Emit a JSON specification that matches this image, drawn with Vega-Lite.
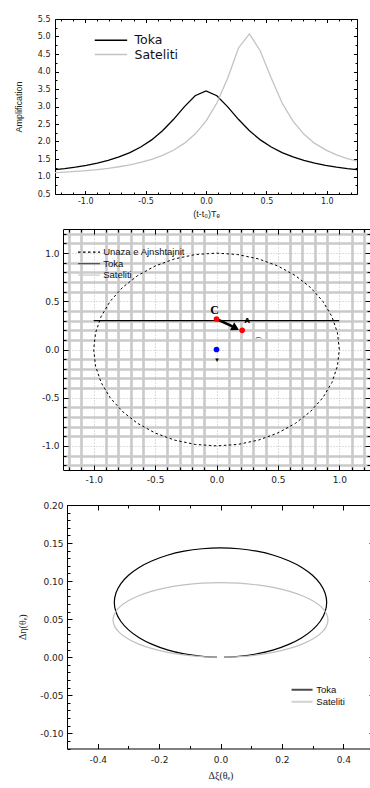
{
"$schema":"https://vega.github.io/schema/vega-lite/v6.json",
"background":"white",
"padding":{"left":0,"top":15,"right":0,"bottom":0},
"spacing":10,
"resolve":{"scale":{"color":"independent","strokeDash":"independent","fill":"independent"},"legend":{"color":"independent","strokeDash":"independent","fill":"independent"}},
"config":{
 "font":"Liberation Sans",
 "view":{"stroke":null},
 "axis":{"domainColor":"#000","domainWidth":1,"tickColor":"#000","tickWidth":1,"labelColor":"#222","titleColor":"#222","titleFontWeight":"normal","labelFlush":false,"labelOverlap":false,"grid":false},
 "locale":{"number":{"decimal":".","thousands":",","grouping":[3],"currency":["$",""],"minus":"-"}}
},
"datasets":{
 "spacer":[{"a":0}],
 "curves":[
  {"t":-1.26,"A":1.192,"s":"Toka"},{"t":-1.17,"A":1.226,"s":"Toka"},{"t":-1.08,"A":1.267,"s":"Toka"},{"t":-0.99,"A":1.318,"s":"Toka"},{"t":-0.9,"A":1.381,"s":"Toka"},{"t":-0.81,"A":1.459,"s":"Toka"},{"t":-0.72,"A":1.558,"s":"Toka"},{"t":-0.63,"A":1.683,"s":"Toka"},{"t":-0.54,"A":1.842,"s":"Toka"},{"t":-0.45,"A":2.046,"s":"Toka"},{"t":-0.36,"A":2.306,"s":"Toka"},{"t":-0.27,"A":2.627,"s":"Toka"},{"t":-0.18,"A":2.988,"s":"Toka"},{"t":-0.09,"A":3.309,"s":"Toka"},{"t":0,"A":3.445,"s":"Toka"},{"t":0.09,"A":3.309,"s":"Toka"},{"t":0.18,"A":2.988,"s":"Toka"},{"t":0.27,"A":2.627,"s":"Toka"},{"t":0.36,"A":2.306,"s":"Toka"},{"t":0.45,"A":2.046,"s":"Toka"},{"t":0.54,"A":1.842,"s":"Toka"},{"t":0.63,"A":1.683,"s":"Toka"},{"t":0.72,"A":1.558,"s":"Toka"},{"t":0.81,"A":1.459,"s":"Toka"},{"t":0.9,"A":1.381,"s":"Toka"},{"t":0.99,"A":1.318,"s":"Toka"},{"t":1.08,"A":1.267,"s":"Toka"},{"t":1.17,"A":1.226,"s":"Toka"},{"t":1.26,"A":1.192,"s":"Toka"},
  {"t":-1.26,"A":1.107,"s":"Sateliti"},{"t":-1.17,"A":1.124,"s":"Sateliti"},{"t":-1.08,"A":1.144,"s":"Sateliti"},{"t":-0.99,"A":1.169,"s":"Sateliti"},{"t":-0.9,"A":1.199,"s":"Sateliti"},{"t":-0.81,"A":1.235,"s":"Sateliti"},{"t":-0.72,"A":1.279,"s":"Sateliti"},{"t":-0.63,"A":1.335,"s":"Sateliti"},{"t":-0.54,"A":1.404,"s":"Sateliti"},{"t":-0.45,"A":1.491,"s":"Sateliti"},{"t":-0.36,"A":1.604,"s":"Sateliti"},{"t":-0.27,"A":1.75,"s":"Sateliti"},{"t":-0.18,"A":1.945,"s":"Sateliti"},{"t":-0.09,"A":2.211,"s":"Sateliti"},{"t":0,"A":2.58,"s":"Sateliti"},{"t":0.09,"A":3.101,"s":"Sateliti"},{"t":0.18,"A":3.817,"s":"Sateliti"},{"t":0.27,"A":4.68,"s":"Sateliti"},{"t":0.36,"A":5.075,"s":"Sateliti"},{"t":0.45,"A":4.58,"s":"Sateliti"},{"t":0.54,"A":3.817,"s":"Sateliti"},{"t":0.63,"A":3.101,"s":"Sateliti"},{"t":0.72,"A":2.58,"s":"Sateliti"},{"t":0.81,"A":2.211,"s":"Sateliti"},{"t":0.9,"A":1.945,"s":"Sateliti"},{"t":0.99,"A":1.76,"s":"Sateliti"},{"t":1.08,"A":1.62,"s":"Sateliti"},{"t":1.17,"A":1.51,"s":"Sateliti"},{"t":1.26,"A":1.43,"s":"Sateliti"}
 ],
 "ring":[
  {"k":0,"x":1,"y":0,"s":"Unaza e Ajnshtajnit"},{"k":1,"x":0.9848,"y":0.1736,"s":"Unaza e Ajnshtajnit"},{"k":2,"x":0.9397,"y":0.342,"s":"Unaza e Ajnshtajnit"},{"k":3,"x":0.866,"y":0.5,"s":"Unaza e Ajnshtajnit"},{"k":4,"x":0.766,"y":0.6428,"s":"Unaza e Ajnshtajnit"},{"k":5,"x":0.6428,"y":0.766,"s":"Unaza e Ajnshtajnit"},{"k":6,"x":0.5,"y":0.866,"s":"Unaza e Ajnshtajnit"},{"k":7,"x":0.342,"y":0.9397,"s":"Unaza e Ajnshtajnit"},{"k":8,"x":0.1736,"y":0.9848,"s":"Unaza e Ajnshtajnit"},{"k":9,"x":0,"y":1,"s":"Unaza e Ajnshtajnit"},{"k":10,"x":-0.1736,"y":0.9848,"s":"Unaza e Ajnshtajnit"},{"k":11,"x":-0.342,"y":0.9397,"s":"Unaza e Ajnshtajnit"},{"k":12,"x":-0.5,"y":0.866,"s":"Unaza e Ajnshtajnit"},{"k":13,"x":-0.6428,"y":0.766,"s":"Unaza e Ajnshtajnit"},{"k":14,"x":-0.766,"y":0.6428,"s":"Unaza e Ajnshtajnit"},{"k":15,"x":-0.866,"y":0.5,"s":"Unaza e Ajnshtajnit"},{"k":16,"x":-0.9397,"y":0.342,"s":"Unaza e Ajnshtajnit"},{"k":17,"x":-0.9848,"y":0.1736,"s":"Unaza e Ajnshtajnit"},{"k":18,"x":-1,"y":0,"s":"Unaza e Ajnshtajnit"},{"k":19,"x":-0.9848,"y":-0.1736,"s":"Unaza e Ajnshtajnit"},{"k":20,"x":-0.9397,"y":-0.342,"s":"Unaza e Ajnshtajnit"},{"k":21,"x":-0.866,"y":-0.5,"s":"Unaza e Ajnshtajnit"},{"k":22,"x":-0.766,"y":-0.6428,"s":"Unaza e Ajnshtajnit"},{"k":23,"x":-0.6428,"y":-0.766,"s":"Unaza e Ajnshtajnit"},{"k":24,"x":-0.5,"y":-0.866,"s":"Unaza e Ajnshtajnit"},{"k":25,"x":-0.342,"y":-0.9397,"s":"Unaza e Ajnshtajnit"},{"k":26,"x":-0.1736,"y":-0.9848,"s":"Unaza e Ajnshtajnit"},{"k":27,"x":0,"y":-1,"s":"Unaza e Ajnshtajnit"},{"k":28,"x":0.1736,"y":-0.9848,"s":"Unaza e Ajnshtajnit"},{"k":29,"x":0.342,"y":-0.9397,"s":"Unaza e Ajnshtajnit"},{"k":30,"x":0.5,"y":-0.866,"s":"Unaza e Ajnshtajnit"},{"k":31,"x":0.6428,"y":-0.766,"s":"Unaza e Ajnshtajnit"},{"k":32,"x":0.766,"y":-0.6428,"s":"Unaza e Ajnshtajnit"},{"k":33,"x":0.866,"y":-0.5,"s":"Unaza e Ajnshtajnit"},{"k":34,"x":0.9397,"y":-0.342,"s":"Unaza e Ajnshtajnit"},{"k":35,"x":0.9848,"y":-0.1736,"s":"Unaza e Ajnshtajnit"},{"k":36,"x":1,"y":0,"s":"Unaza e Ajnshtajnit"}
 ],
 "traj":[{"x":-1,"y":0.3},{"x":1,"y":0.3}],
 "arrow":[{"x":0,"y":0.316,"x2":0.13,"y2":0.24}],
 "head":[{"x":0.155,"y":0.222}],
 "dots":[{"x":0,"y":0.316,"body":"burimi"},{"x":0.209,"y":0.199,"body":"burimi"},{"x":0,"y":0,"body":"thjerrza"}],
 "glyph1":[{"x":-0.015,"y":0.41,"g":"C"}],
 "glyph2":[{"x":0.25,"y":0.3,"g":"A"},{"x":0.34,"y":0.09,"g":"⌒"},{"x":0.005,"y":-0.11,"g":"▾"}],
 "shift":[
  {"k":0,"x":0.0121,"y":0,"s":"Toka"},{"k":1,"x":0.06,"y":0.0011,"s":"Toka"},{"k":2,"x":0.1183,"y":0.0043,"s":"Toka"},{"k":3,"x":0.173,"y":0.0096,"s":"Toka"},{"k":4,"x":0.2223,"y":0.0168,"s":"Toka"},{"k":5,"x":0.265,"y":0.0256,"s":"Toka"},{"k":6,"x":0.2996,"y":0.0359,"s":"Toka"},{"k":7,"x":0.325,"y":0.0472,"s":"Toka"},{"k":8,"x":0.3406,"y":0.0593,"s":"Toka"},{"k":9,"x":0.3459,"y":0.0718,"s":"Toka"},{"k":10,"x":0.3406,"y":0.0843,"s":"Toka"},{"k":11,"x":0.325,"y":0.0964,"s":"Toka"},{"k":12,"x":0.2996,"y":0.1077,"s":"Toka"},{"k":13,"x":0.265,"y":0.118,"s":"Toka"},{"k":14,"x":0.2223,"y":0.1268,"s":"Toka"},{"k":15,"x":0.173,"y":0.134,"s":"Toka"},{"k":16,"x":0.1183,"y":0.1393,"s":"Toka"},{"k":17,"x":0.06,"y":0.1425,"s":"Toka"},{"k":18,"x":0,"y":0.1436,"s":"Toka"},{"k":19,"x":-0.06,"y":0.1425,"s":"Toka"},{"k":20,"x":-0.1183,"y":0.1393,"s":"Toka"},{"k":21,"x":-0.173,"y":0.134,"s":"Toka"},{"k":22,"x":-0.2223,"y":0.1268,"s":"Toka"},{"k":23,"x":-0.265,"y":0.118,"s":"Toka"},{"k":24,"x":-0.2996,"y":0.1077,"s":"Toka"},{"k":25,"x":-0.325,"y":0.0964,"s":"Toka"},{"k":26,"x":-0.3406,"y":0.0843,"s":"Toka"},{"k":27,"x":-0.3459,"y":0.0718,"s":"Toka"},{"k":28,"x":-0.3406,"y":0.0593,"s":"Toka"},{"k":29,"x":-0.325,"y":0.0472,"s":"Toka"},{"k":30,"x":-0.2996,"y":0.0359,"s":"Toka"},{"k":31,"x":-0.265,"y":0.0256,"s":"Toka"},{"k":32,"x":-0.2223,"y":0.0168,"s":"Toka"},{"k":33,"x":-0.173,"y":0.0096,"s":"Toka"},{"k":34,"x":-0.1183,"y":0.0043,"s":"Toka"},{"k":35,"x":-0.06,"y":0.0011,"s":"Toka"},{"k":36,"x":-0.0121,"y":0,"s":"Toka"},
  {"k":0,"x":0.0122,"y":0,"s":"Sateliti"},{"k":1,"x":0.0608,"y":0.0007,"s":"Sateliti"},{"k":2,"x":0.1197,"y":0.003,"s":"Sateliti"},{"k":3,"x":0.1751,"y":0.0066,"s":"Sateliti"},{"k":4,"x":0.225,"y":0.0115,"s":"Sateliti"},{"k":5,"x":0.2682,"y":0.0175,"s":"Sateliti"},{"k":6,"x":0.3032,"y":0.0245,"s":"Sateliti"},{"k":7,"x":0.329,"y":0.0322,"s":"Sateliti"},{"k":8,"x":0.3448,"y":0.0405,"s":"Sateliti"},{"k":9,"x":0.3501,"y":0.049,"s":"Sateliti"},{"k":10,"x":0.3448,"y":0.0575,"s":"Sateliti"},{"k":11,"x":0.329,"y":0.0658,"s":"Sateliti"},{"k":12,"x":0.3032,"y":0.0735,"s":"Sateliti"},{"k":13,"x":0.2682,"y":0.0805,"s":"Sateliti"},{"k":14,"x":0.225,"y":0.0865,"s":"Sateliti"},{"k":15,"x":0.1751,"y":0.0914,"s":"Sateliti"},{"k":16,"x":0.1197,"y":0.095,"s":"Sateliti"},{"k":17,"x":0.0608,"y":0.0973,"s":"Sateliti"},{"k":18,"x":0,"y":0.098,"s":"Sateliti"},{"k":19,"x":-0.0608,"y":0.0973,"s":"Sateliti"},{"k":20,"x":-0.1197,"y":0.095,"s":"Sateliti"},{"k":21,"x":-0.1751,"y":0.0914,"s":"Sateliti"},{"k":22,"x":-0.225,"y":0.0865,"s":"Sateliti"},{"k":23,"x":-0.2682,"y":0.0805,"s":"Sateliti"},{"k":24,"x":-0.3032,"y":0.0735,"s":"Sateliti"},{"k":25,"x":-0.329,"y":0.0658,"s":"Sateliti"},{"k":26,"x":-0.3448,"y":0.0575,"s":"Sateliti"},{"k":27,"x":-0.3501,"y":0.049,"s":"Sateliti"},{"k":28,"x":-0.3448,"y":0.0405,"s":"Sateliti"},{"k":29,"x":-0.329,"y":0.0322,"s":"Sateliti"},{"k":30,"x":-0.3032,"y":0.0245,"s":"Sateliti"},{"k":31,"x":-0.2682,"y":0.0175,"s":"Sateliti"},{"k":32,"x":-0.225,"y":0.0115,"s":"Sateliti"},{"k":33,"x":-0.1751,"y":0.0066,"s":"Sateliti"},{"k":34,"x":-0.1197,"y":0.003,"s":"Sateliti"},{"k":35,"x":-0.0608,"y":0.0007,"s":"Sateliti"},{"k":36,"x":-0.0122,"y":0,"s":"Sateliti"}
 ]
},
"vconcat":[
 {"spacing":0,
  "resolve":{"scale":{"color":"independent"},"legend":{"color":"independent"}},
  "hconcat":[
  {"width":13.1,"height":10,"data":{"name":"spacer"},"mark":{"type":"point","opacity":0,"size":1}},
  {
  "width":302,"height":175,
  "data":{"name":"curves"},
  "resolve":{"axis":{"x":"independent","y":"independent"}},
  "layer":[
   {"mark":{"type":"line","strokeWidth":1.3,"clip":true},
    "encoding":{
     "x":{"field":"t","type":"quantitative","scale":{"domain":[-1.25,1.25],"nice":false,"zero":false},
      "axis":{"orient":"bottom","values":[-1,-0.5,0,0.5,1],"format":".1f","tickSize":-3.5,"labelPadding":6.5,"labelFont":"DejaVu Sans","labelFontSize":8,"title":"(t-t₀)Tₑ","titleFont":"Liberation Sans","titleFontSize":9,"titlePadding":4}},
     "y":{"field":"A","type":"quantitative","scale":{"domain":[0.5,5.5],"nice":false,"zero":false},
      "axis":{"orient":"left","values":[0.5,1,1.5,2,2.5,3,3.5,4,4.5,5,5.5],"format":".1f","tickSize":-3.5,"labelPadding":8.5,"labelFont":"DejaVu Sans","labelFontSize":8,"title":"Amplification","titleFont":"Liberation Sans","titleFontSize":9,"titlePadding":14}},
     "color":{"field":"s","type":"nominal","scale":{"domain":["Toka","Sateliti"],"range":["#000000","#c3c3c3"]},
      "legend":{"orient":"none","legendX":49.7,"legendY":15,"title":null,"direction":"vertical","symbolType":"M-4,0H4","symbolSize":65.6,"symbolStrokeWidth":1.5,"labelOffset":17.3,"labelFont":"DejaVu Sans","labelFontSize":12.5,"labelColor":"#111","padding":0,"rowPadding":1.3}}
    }},
   {"mark":{"type":"point","opacity":0,"clip":true},
    "encoding":{
     "x":{"field":"t","type":"quantitative","scale":{"domain":[-1.25,1.25],"nice":false,"zero":false},
      "axis":{"orient":"bottom","values":[-1.2,-1.1,-0.9,-0.8,-0.7,-0.6,-0.4,-0.3,-0.2,-0.1,0.1,0.2,0.3,0.4,0.6,0.7,0.8,0.9,1.1,1.2],"tickSize":-2,"labels":false,"domain":false,"title":null}},
     "y":{"field":"A","type":"quantitative","scale":{"domain":[0.5,5.5],"nice":false,"zero":false},
      "axis":{"orient":"left","values":[0.75,1.25,1.75,2.25,2.75,3.25,3.75,4.25,4.75,5.25],"tickSize":-2,"labels":false,"domain":false,"title":null}}
    }},
   {"mark":{"type":"point","opacity":0,"clip":true},
    "encoding":{
     "x":{"field":"t","type":"quantitative","scale":{"domain":[-1.25,1.25],"nice":false,"zero":false},
      "axis":{"orient":"top","values":[-1,-0.5,0,0.5,1],"tickSize":-3.5,"labels":false,"domain":true,"title":null}},
     "y":{"field":"A","type":"quantitative","scale":{"domain":[0.5,5.5],"nice":false,"zero":false},
      "axis":{"orient":"right","values":[0.5,1,1.5,2,2.5,3,3.5,4,4.5,5,5.5],"tickSize":-3.5,"labels":false,"domain":true,"title":null}}
    }},
   {"mark":{"type":"point","opacity":0,"clip":true},
    "encoding":{
     "x":{"field":"t","type":"quantitative","scale":{"domain":[-1.25,1.25],"nice":false,"zero":false},
      "axis":{"orient":"top","values":[-1.2,-1.1,-0.9,-0.8,-0.7,-0.6,-0.4,-0.3,-0.2,-0.1,0.1,0.2,0.3,0.4,0.6,0.7,0.8,0.9,1.1,1.2],"tickSize":-2,"labels":false,"domain":false,"title":null}},
     "y":{"field":"A","type":"quantitative","scale":{"domain":[0.5,5.5],"nice":false,"zero":false},
      "axis":{"orient":"right","values":[0.75,1.25,1.75,2.25,2.75,3.25,3.75,4.25,4.75,5.25],"tickSize":-2,"labels":false,"domain":false,"title":null}}
    }}
  ]
 }]},
 {"spacing":0,
  "resolve":{"scale":{"color":"independent","strokeDash":"independent","fill":"independent"},"legend":{"color":"independent","strokeDash":"independent","fill":"independent"}},
  "hconcat":[
  {"width":40.7,"height":10,"data":{"name":"spacer"},"mark":{"type":"point","opacity":0,"size":1}},
  {
  "width":307,"height":241,
  "resolve":{"axis":{"x":"independent","y":"independent"}},
  "layer":[
   {"data":{"name":"ring"},"mark":{"type":"line","strokeWidth":1,"clip":true},
    "encoding":{
     "x":{"field":"x","type":"quantitative","scale":{"domain":[-1.25,1.25],"nice":false,"zero":false},
      "axis":{"orient":"bottom","values":[-1,-0.5,0,0.5,1],"format":".1f","tickSize":-5,"labelPadding":10.5,"labelFont":"DejaVu Sans","labelFontSize":9,"title":null,"grid":true,"gridColor":"#bdbdbd","gridDash":[1,2],"gridWidth":1}},
     "y":{"field":"y","type":"quantitative","scale":{"domain":[-1.25,1.25],"nice":false,"zero":false},
      "axis":{"orient":"left","values":[-1,-0.5,0,0.5,1],"format":".1f","tickSize":-5,"labelPadding":9,"labelFont":"DejaVu Sans","labelFontSize":9,"title":null,"grid":true,"gridColor":"#bdbdbd","gridDash":[1,2],"gridWidth":1}},
     "order":{"field":"k","type":"quantitative"},
     "color":{"field":"s","type":"nominal","scale":{"domain":["Unaza e Ajnshtajnit","Toka","Sateliti"],"range":["#000000","#555555","#cccccc"]},
      "legend":{"orient":"none","legendX":21.25,"legendY":18.3,"title":null,"direction":"vertical","symbolType":"M-4,0H4","symbolSize":30.25,"symbolStrokeWidth":1.2,"labelOffset":9.4,"labelFont":"Liberation Sans","labelFontSize":9.5,"labelColor":"#111","padding":0,"rowPadding":0.5}},
     "strokeDash":{"field":"s","type":"nominal","scale":{"domain":["Unaza e Ajnshtajnit","Toka","Sateliti"],"range":[[2.5,2.5],[1,0],[1,0]]},
      "legend":{"orient":"none","legendX":21.25,"legendY":18.3,"title":null,"direction":"vertical","symbolType":"M-4,0H4","symbolSize":30.25,"symbolStrokeWidth":1.2,"labelOffset":9.4,"labelFont":"Liberation Sans","labelFontSize":9.5,"labelColor":"#111","padding":0,"rowPadding":0.5}}
    }},
   {"data":{"name":"traj"},"mark":{"type":"line","color":"#000000","strokeWidth":1.3},
    "encoding":{
     "x":{"field":"x","type":"quantitative","scale":{"domain":[-1.25,1.25],"nice":false,"zero":false},
      "axis":{"orient":"bottom","values":[-1.2,-1.1,-0.9,-0.8,-0.7,-0.6,-0.4,-0.3,-0.2,-0.1,0.1,0.2,0.3,0.4,0.6,0.7,0.8,0.9,1.1,1.2],"tickSize":-3,"labels":false,"domain":false,"grid":true,"gridColor":"#cacaca","gridWidth":2.6,"title":null}},
     "y":{"field":"y","type":"quantitative","scale":{"domain":[-1.25,1.25],"nice":false,"zero":false},
      "axis":{"orient":"left","values":[-1.2,-1.1,-0.9,-0.8,-0.7,-0.6,-0.4,-0.3,-0.2,-0.1,0.1,0.2,0.3,0.4,0.6,0.7,0.8,0.9,1.1,1.2],"tickSize":-3,"labels":false,"domain":false,"grid":true,"gridColor":"#cacaca","gridWidth":2.6,"title":null}}
    }},
   {"data":{"name":"arrow"},"mark":{"type":"rule","color":"#000000","strokeWidth":2.6},
    "encoding":{
     "x":{"field":"x","type":"quantitative","scale":{"domain":[-1.25,1.25],"nice":false,"zero":false},
      "axis":{"orient":"top","values":[-1,-0.5,0,0.5,1],"tickSize":-5,"labels":false,"domain":true,"title":null}},
     "y":{"field":"y","type":"quantitative","scale":{"domain":[-1.25,1.25],"nice":false,"zero":false},
      "axis":{"orient":"right","values":[-1,-0.5,0,0.5,1],"tickSize":-5,"labels":false,"domain":true,"title":null}},
     "x2":{"field":"x2"},"y2":{"field":"y2"}
    }},
   {"data":{"name":"head"},"mark":{"type":"point","shape":"triangle-right","filled":true,"color":"#000000","size":80,"angle":28,"opacity":1},
    "encoding":{
     "x":{"field":"x","type":"quantitative","scale":{"domain":[-1.25,1.25],"nice":false,"zero":false},
      "axis":{"orient":"top","values":[-1.2,-1.1,-0.9,-0.8,-0.7,-0.6,-0.4,-0.3,-0.2,-0.1,0.1,0.2,0.3,0.4,0.6,0.7,0.8,0.9,1.1,1.2],"tickSize":-3,"labels":false,"domain":false,"title":null}},
     "y":{"field":"y","type":"quantitative","scale":{"domain":[-1.25,1.25],"nice":false,"zero":false},
      "axis":{"orient":"right","values":[-1.2,-1.1,-0.9,-0.8,-0.7,-0.6,-0.4,-0.3,-0.2,-0.1,0.1,0.2,0.3,0.4,0.6,0.7,0.8,0.9,1.1,1.2],"tickSize":-3,"labels":false,"domain":false,"title":null}}
    }},
   {"data":{"name":"dots"},"mark":{"type":"circle","size":32,"opacity":1},
    "encoding":{
     "x":{"field":"x","type":"quantitative","axis":null},
     "y":{"field":"y","type":"quantitative","axis":null},
     "fill":{"field":"body","type":"nominal","scale":{"domain":["burimi","thjerrza"],"range":["#ff0000","#0000ff"]},"legend":null}
    }},
   {"data":{"name":"glyph1"},"mark":{"type":"text","font":"Liberation Serif","fontWeight":"bold","fontSize":12,"color":"#000000"},
    "encoding":{
     "x":{"field":"x","type":"quantitative","axis":null},
     "y":{"field":"y","type":"quantitative","axis":null},
     "text":{"field":"g"}
    }},
   {"data":{"name":"glyph2"},"mark":{"type":"text","font":"DejaVu Sans","fontWeight":"bold","fontSize":7,"color":"#000000"},
    "encoding":{
     "x":{"field":"x","type":"quantitative","axis":null},
     "y":{"field":"y","type":"quantitative","axis":null},
     "text":{"field":"g"}
    }}
  ]
 }]},
 {"spacing":0,
  "resolve":{"scale":{"color":"independent"},"legend":{"color":"independent"}},
  "hconcat":[
  {"width":16.6,"height":10,"data":{"name":"spacer"},"mark":{"type":"point","opacity":0,"size":1}},
  {
  "width":307,"height":243.5,
  "data":{"name":"shift"},
  "resolve":{"axis":{"x":"independent","y":"independent"}},
  "layer":[
   {"mark":{"type":"line","strokeWidth":1.2,"interpolate":"catmull-rom"},
    "encoding":{
     "x":{"field":"x","type":"quantitative","scale":{"domain":[-0.5,0.5],"nice":false,"zero":false},
      "axis":{"orient":"bottom","values":[-0.4,-0.2,0,0.2,0.4],"format":".1f","tickSize":-5,"labelPadding":12,"labelFont":"DejaVu Sans","labelFontSize":9,"title":"Δξ(θₑ)","titleFont":"Liberation Serif","titleFontSize":10,"titlePadding":6}},
     "y":{"field":"y","type":"quantitative","scale":{"domain":[-0.12,0.2],"nice":false,"zero":false},
      "axis":{"orient":"left","values":[-0.1,-0.05,0,0.05,0.1,0.15,0.2],"format":".2f","tickSize":-5,"labelPadding":9,"labelFont":"DejaVu Sans","labelFontSize":9,"title":"Δη(θₑ)","titleFont":"Liberation Serif","titleFontSize":10,"titlePadding":12}},
     "order":{"field":"k","type":"quantitative"},
     "color":{"field":"s","type":"nominal","scale":{"domain":["Toka","Sateliti"],"range":["#000000","#c0c0c0"]},
      "legend":{"orient":"none","legendX":230.3,"legendY":180,"title":null,"direction":"vertical","symbolType":"M-4,0H4","symbolSize":27.6,"symbolStrokeWidth":2,"symbolOpacity":0.7,"labelOffset":9.5,"labelFont":"Liberation Sans","labelFontSize":9.5,"labelColor":"#111","padding":0,"rowPadding":1}}
    }},
   {"mark":{"type":"point","opacity":0},
    "encoding":{
     "x":{"field":"x","type":"quantitative","scale":{"domain":[-0.5,0.5],"nice":false,"zero":false},
      "axis":{"orient":"bottom","values":[-0.5,-0.3,-0.1,0.1,0.3,0.5],"tickSize":-3,"labels":false,"domain":false,"title":null}},
     "y":{"field":"y","type":"quantitative","scale":{"domain":[-0.12,0.2],"nice":false,"zero":false},
      "axis":{"orient":"left","values":[-0.12,-0.11,-0.09,-0.08,-0.07,-0.06,-0.04,-0.03,-0.02,-0.01,0.01,0.02,0.03,0.04,0.06,0.07,0.08,0.09,0.11,0.12,0.13,0.14,0.16,0.17,0.18,0.19],"tickSize":-3,"labels":false,"domain":false,"title":null}}
    }},
   {"mark":{"type":"point","opacity":0},
    "encoding":{
     "x":{"field":"x","type":"quantitative","scale":{"domain":[-0.5,0.5],"nice":false,"zero":false},
      "axis":{"orient":"top","values":[-0.4,-0.2,0,0.2,0.4],"tickSize":-5,"labels":false,"domain":true,"title":null}},
     "y":{"field":"y","type":"quantitative","scale":{"domain":[-0.12,0.2],"nice":false,"zero":false},
      "axis":{"orient":"right","values":[-0.1,-0.05,0,0.05,0.1,0.15,0.2],"tickSize":-5,"labels":false,"domain":true,"title":null}}
    }},
   {"mark":{"type":"point","opacity":0},
    "encoding":{
     "x":{"field":"x","type":"quantitative","scale":{"domain":[-0.5,0.5],"nice":false,"zero":false},
      "axis":{"orient":"top","values":[-0.5,-0.3,-0.1,0.1,0.3,0.5],"tickSize":-3,"labels":false,"domain":false,"title":"I","titleOpacity":0,"titleFontSize":4,"titlePadding":4.6}},
     "y":{"field":"y","type":"quantitative","scale":{"domain":[-0.12,0.2],"nice":false,"zero":false},
      "axis":{"orient":"right","values":[-0.12,-0.11,-0.09,-0.08,-0.07,-0.06,-0.04,-0.03,-0.02,-0.01,0.01,0.02,0.03,0.04,0.06,0.07,0.08,0.09,0.11,0.12,0.13,0.14,0.16,0.17,0.18,0.19],"tickSize":-3,"labels":false,"domain":false,"title":null}}
    }}
  ]
 }]}
]
}
